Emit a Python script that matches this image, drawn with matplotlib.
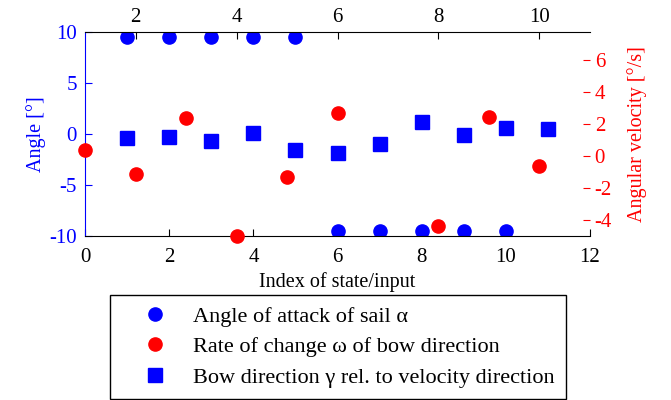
import matplotlib
matplotlib.use('Agg')
import matplotlib.pyplot as plt

plt.rcParams['font.family'] = ['Liberation Serif', 'DejaVu Serif']
plt.rcParams['font.size'] = 14.5
plt.rcParams['axes.unicode_minus'] = False

# angle of attack of sail (left axis, bottom index)
alpha_x = [1, 2, 3, 4, 5, 6, 7, 8, 9, 10]
alpha_y = [9.5, 9.5, 9.5, 9.5, 9.5, -9.5, -9.5, -9.5, -9.5, -9.5]

# bow direction rel. to velocity direction (left axis, bottom index)
gamma_x = [1, 2, 3, 4, 5, 6, 7, 8, 9, 10, 11]
gamma_y = [-0.4, -0.3, -0.7, 0.1, -1.6, -1.9, -1.0, 1.2, -0.1, 0.6, 0.5]

# rate of change of bow direction (right axis, top index)
omega_x = [1, 2, 3, 4, 5, 6, 8, 9, 10]
omega_y = [0.4, -1.1, 2.4, -5.0, -1.3, 2.7, -4.4, 2.45, -0.6]

fig = plt.figure(figsize=(6.71, 4.0), dpi=100)
ax = fig.add_axes([0.127, 0.41, 0.752, 0.51])
ax2 = fig.add_axes(ax.get_position(), frameon=False)

h1, = ax.plot(alpha_x, alpha_y, 'o', color='blue', ms=9.5, lw=0,
              label='Angle of attack of sail α')
h3, = ax.plot(gamma_x, gamma_y, 's', color='blue', ms=9.5, lw=0,
              label='Bow direction γ rel. to velocity direction')
h2, = ax2.plot(omega_x, omega_y, 'o', color='red', ms=9.5, lw=0,
               label='Rate of change ω of bow direction', clip_on=False)

ax.set_xlim(0, 12)
ax.set_ylim(-10, 10)
ax.set_xticks(range(0, 13, 2))
ax.set_yticks([-10, -5, 0, 5, 10])
ax.tick_params(direction='in', length=5, labelsize=15)
ax.tick_params(axis='x', pad=9)
ax.tick_params(axis='y', colors='blue', pad=6)
ax.spines['left'].set_color('blue')
ax.spines['right'].set_visible(False)
ax.set_ylabel('Angle [°]', color='blue', labelpad=2)
ax.set_xlabel('Index of state/input', labelpad=3)

ax2.set_xlim(1, 11)
ax2.set_ylim(-5, 7.75)
ax2.set_xticks([2, 4, 6, 8, 10])
ax2.set_yticks([-4, -2, 0, 2, 4, 6])
ax2.xaxis.tick_top()
ax2.yaxis.tick_right()
ax2.yaxis.set_label_position('right')
ax2.tick_params(direction='in', length=5, labelsize=15)
ax2.tick_params(axis='y', colors='red')
ax2.spines['right'].set_visible(True)
ax2.spines['right'].set_color('red')
ax2.set_ylabel('Angular velocity [°/s]', color='red', labelpad=11)

fig.legend([h1, h2, h3], [h1.get_label(), h2.get_label(), h3.get_label()],
           loc='upper center', bbox_to_anchor=(0.504, 0.2625),
           fontsize=16, fancybox=False, edgecolor='black',
           framealpha=1, labelspacing=0.45, handletextpad=0.25,
           borderpad=0.5, handlelength=3.0, borderaxespad=0)

fig.savefig('out.png', dpi=100)
